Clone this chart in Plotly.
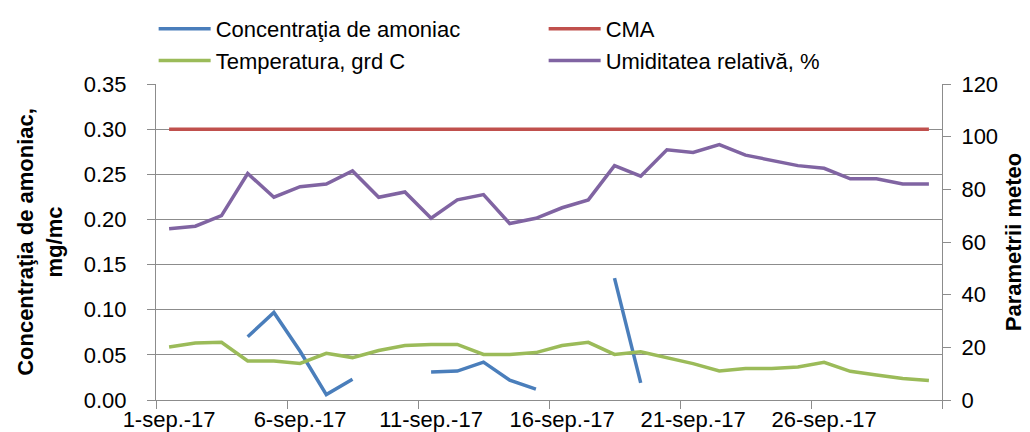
import plotly.graph_objects as go

days = list(range(1, 31))
tick_days = [1, 6, 11, 16, 21, 26]
tick_labels = ["1-sep.-17", "6-sep.-17", "11-sep.-17", "16-sep.-17", "21-sep.-17", "26-sep.-17"]

amoniac = [None, None, None, 0.070, 0.097, 0.054, 0.006, 0.023, None, None,
           0.031, 0.032, 0.042, 0.022, 0.012, None, None, 0.135, 0.019, None,
           None, None, None, None, None, None, None, None, None, None]
cma = [0.30] * 30
temperatura = [20.1, 21.6, 21.9, 14.8, 14.8, 13.9, 17.7, 16.1, 18.8, 20.7,
               21.1, 21.1, 17.3, 17.3, 18.0, 20.7, 21.9, 17.3, 18.3, 16.1,
               13.8, 11.0, 12.0, 12.0, 12.5, 14.3, 10.9, 9.5, 8.2, 7.4]
umiditate = [65, 66, 70, 86, 77, 81, 82, 87, 77, 79,
             69, 76, 78, 67, 69, 73, 76, 89, 85, 95,
             94, 97, 93, 91, 89, 88, 84, 84, 82, 82]

FONT = "Liberation Sans, Arial, sans-serif"
GRID = "#8c8c8c"
LW = 3.5
FS = 22

fig = go.Figure()
fig.add_trace(go.Scatter(x=days, y=amoniac, name="Concentraţia de amoniac", mode="lines",
                         line=dict(color="#4A7EBB", width=LW), connectgaps=False, yaxis="y"))
fig.add_trace(go.Scatter(x=days, y=cma, name="CMA", mode="lines",
                         line=dict(color="#C0504D", width=LW), yaxis="y"))
fig.add_trace(go.Scatter(x=days, y=temperatura, name="Temperatura, grd C", mode="lines",
                         line=dict(color="#9BBB59", width=LW), yaxis="y2"))
fig.add_trace(go.Scatter(x=days, y=umiditate, name="Umiditatea relativă, %", mode="lines",
                         line=dict(color="#8064A2", width=LW), yaxis="y2"))

boundaries = [0.5, 5.5, 10.5, 15.5, 20.5, 25.5, 30.5]

fig.update_layout(
    width=1030, height=432,
    margin=dict(l=148, r=96, t=76, b=40, autoexpand=False),
    paper_bgcolor="white", plot_bgcolor="white",
    font=dict(family=FONT, size=FS, color="black"),
    showlegend=True,
    legend=dict(orientation="h", xref="container", x=0.1414, xanchor="left",
                y=1.0, yref="container", yanchor="top",
                entrywidth=323, entrywidthmode="pixels", itemwidth=52, font=dict(size=FS),
                bgcolor="rgba(0,0,0,0)", tracegroupgap=0),
    xaxis=dict(range=[0.5, 30.5], tickmode="array", tickvals=tick_days, ticktext=tick_labels,
               ticks="", showgrid=False, zeroline=False, showline=True, linecolor=GRID, linewidth=1,
               tickfont=dict(size=FS),
               minor=dict(tickmode="array", tickvals=boundaries, ticks="outside", ticklen=8,
                          tickcolor=GRID, tickwidth=1, showgrid=False)),
    yaxis=dict(range=[0, 0.35], tickmode="array", tickvals=[0, 0.05, 0.10, 0.15, 0.20, 0.25, 0.30, 0.35],
               tickformat=".2f", ticks="outside", ticklen=8, tickcolor=GRID, ticklabelstandoff=16,
               showgrid=True, gridcolor=GRID, gridwidth=1, zeroline=False,
               showline=True, linecolor=GRID, linewidth=1,
               title=dict(text="<b>Concentraţia de amoniac,<br>mg/mc</b>", font=dict(size=FS), standoff=15)),
    yaxis2=dict(range=[0, 120], tickmode="array", tickvals=[0, 20, 40, 60, 80, 100, 120],
                overlaying="y", side="right", ticks="outside", ticklen=8, tickcolor=GRID, ticklabelstandoff=6,
                showgrid=False, zeroline=False, showline=True, linecolor=GRID, linewidth=1,
                title=dict(text="<b>Parametrii meteo</b>", font=dict(size=FS), standoff=8)),
)

fig.write_html("out.html")
